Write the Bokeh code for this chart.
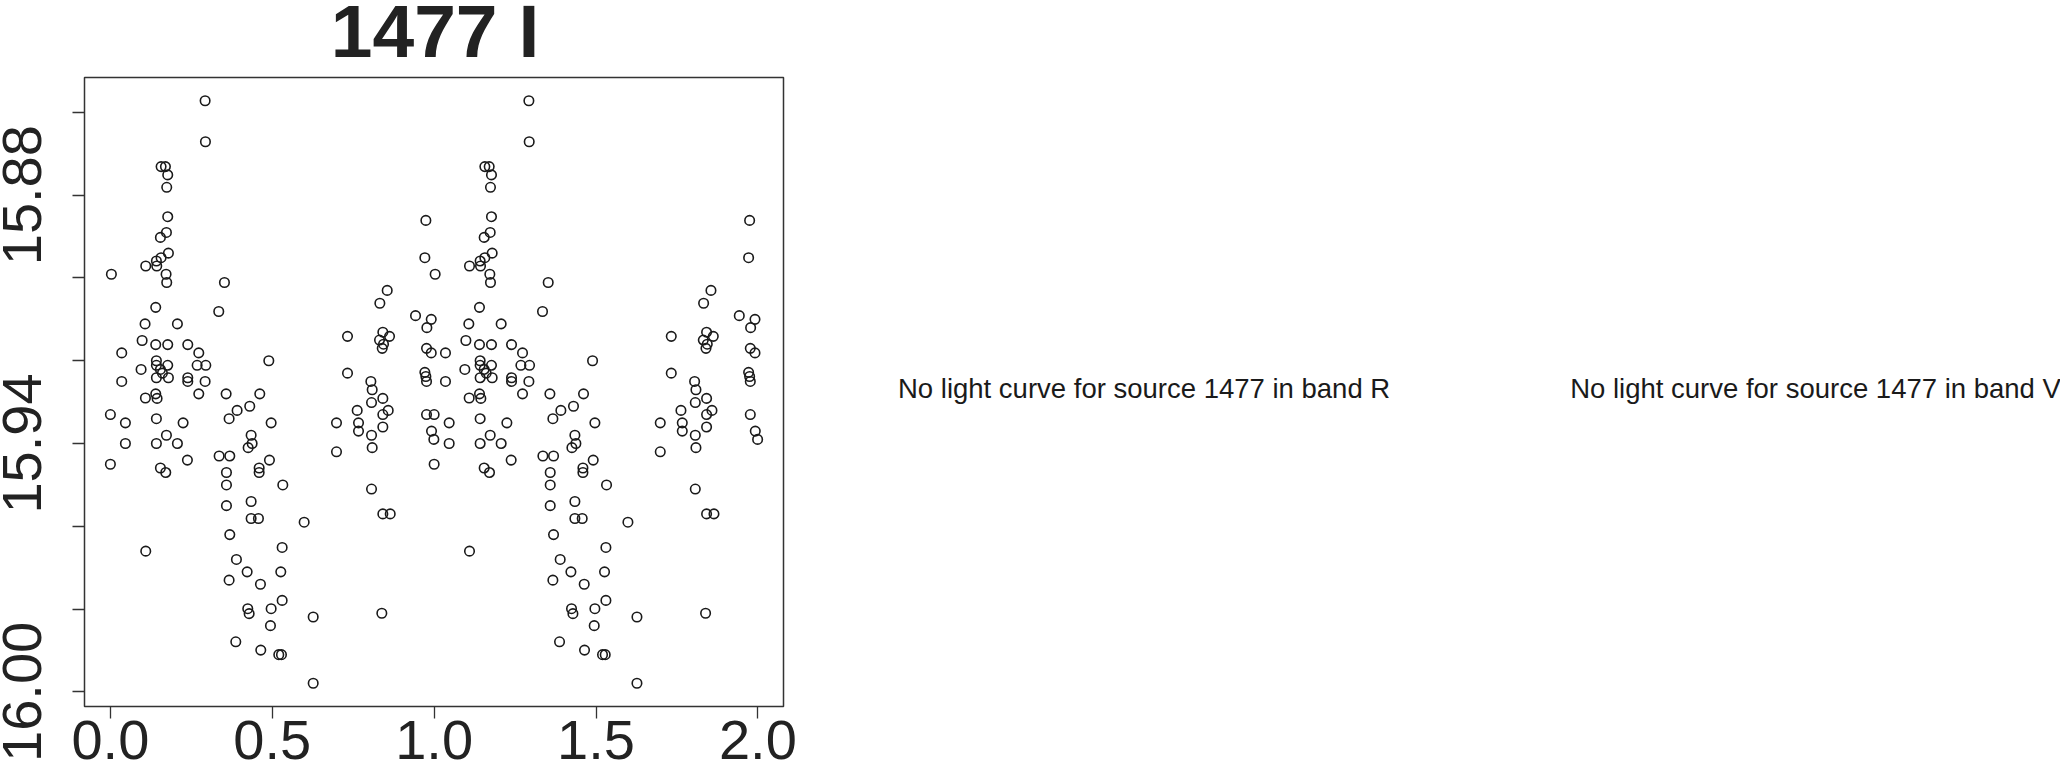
from bokeh.plotting import figure
from bokeh.models import Range1d, FixedTicker
from bokeh.layouts import row, column
from bokeh.core.properties import value
from bokeh.embed import file_html
from bokeh.resources import INLINE

# ---------------- data ----------------
SOURCE_ID = "1477"
BAND = "I"
MISSING_BANDS = ["R", "V"]

phase_a = [0.2926, 0.2936, 0.1566, 0.1700, 0.1771, 0.1740, 0.1771, 0.1731, 0.1545, 0.1792,
           0.1566, 0.1421, 0.1092, 0.1432, 0.0031, 0.1720, 0.1740, 0.3523, 0.1400, 0.3347,
           0.1071, 0.2070, 0.0980, 0.1400, 0.1771, 0.2390, 0.0350, 0.2730, 0.4893, 0.1421,
           0.1421, 0.1771, 0.2679, 0.2947, 0.0948, 0.1545, 0.1607, 0.1421, 0.1792, 0.2390,
           0.0350, 0.2390, 0.2926]
mag_a = [15.8572, 15.8671, 15.8731, 15.8731, 15.8751, 15.8781, 15.8852, 15.8890, 15.8902, 15.8940,
         15.8951, 15.8959, 15.8971, 15.8971, 15.8991, 15.8991, 15.9011, 15.9011, 15.9071, 15.9081,
         15.9111, 15.9111, 15.9151, 15.9161, 15.9161, 15.9161, 15.9181, 15.9181, 15.9200, 15.9200,
         15.9211, 15.9211, 15.9211, 15.9211, 15.9221, 15.9221, 15.9230, 15.9241, 15.9241, 15.9241,
         15.9250, 15.9250, 15.9250]

phase_b = [0.9744, 0.9713, 0.8550, 0.8323, 0.9425, 0.9910, 0.9775, 0.7324, 0.8415, 0.8622,
           0.8313, 0.8436, 0.8396, 0.9765, 0.9910, 0.7324, 0.9713, 0.9744, 0.9765, 0.8045,
           0.8086]
mag_b = [15.8861, 15.8951, 15.9030, 15.9061, 15.9091, 15.9100, 15.9120, 15.9141, 15.9131, 15.9141,
         15.9150, 15.9160, 15.9170, 15.9170, 15.9181, 15.9230, 15.9228, 15.9238, 15.9250, 15.9250,
         15.9270]

phase_c = [0.1082, 0.1401, 0.1442, 0.2730, 0.3575, 0.4614, 0.0000, 0.0464, 0.1421, 0.2246,
           0.3914, 0.4304, 0.3667, 0.4965, 0.1731, 0.0464, 0.1421, 0.2070, 0.4347, 0.4378,
           0.4255, 0.0000, 0.1545, 0.1710, 0.2379, 0.3359, 0.3688, 0.3585, 0.4595, 0.4595,
           0.4913, 0.3585, 0.3585, 0.4347, 0.4347, 0.4573, 0.3688, 0.1092, 0.3893, 0.4224,
           0.3667, 0.4635, 0.4243, 0.4286, 0.4965, 0.4944, 0.3873, 0.4645]
mag_c = [15.9290, 15.9280, 15.9291, 15.9280, 15.9280, 15.9280, 15.9330, 15.9350, 15.9340, 15.9350,
         15.9320, 15.9310, 15.9340, 15.9350, 15.9380, 15.9400, 15.9400, 15.9400, 15.9380, 15.9400,
         15.9410, 15.9450, 15.9459, 15.9470, 15.9440, 15.9430, 15.9430, 15.9470, 15.9459, 15.9470,
         15.9440, 15.9500, 15.9550, 15.9540, 15.9581, 15.9581, 15.9620, 15.9660, 15.9680, 15.9710,
         15.9730, 15.9740, 15.9799, 15.9811, 15.9799, 15.9840, 15.9879, 15.9899]

phase_d = [0.8415, 0.8066, 0.7623, 0.8581, 0.8415, 0.9765, 0.6984, 0.7664, 0.7664, 0.8415,
           0.8066, 0.8086, 0.6984, 0.9919, 0.9991, 0.5325, 0.8066, 0.8415, 0.8643, 0.5985,
           0.5305, 0.5263, 0.5305, 0.6264, 0.8384, 0.5201, 0.5284, 0.6264]
mag_d = [15.9291, 15.9301, 15.9320, 15.9320, 15.9330, 15.9330, 15.9350, 15.9350, 15.9370, 15.9360,
         15.9380, 15.9410, 15.9420, 15.9370, 15.9390, 15.9500, 15.9510, 15.9570, 15.9570, 15.9590,
         15.9651, 15.9710, 15.9779, 15.9819, 15.9810, 15.9910, 15.9910, 15.9979]

x_tick_values = [0.0, 0.5, 1.0, 1.5, 2.0]
x_tick_labels = ["0.0", "0.5", "1.0", "1.5", "2.0"]
y_tick_values = [15.86, 15.88, 15.90, 15.92, 15.94, 15.96, 15.98, 16.00]
y_tick_labels = ["", "15.88", "", "", "15.94", "", "", "16.00"]

phase = phase_a + phase_b + phase_c + phase_d
mag = mag_a + mag_b + mag_c + mag_d

# light curve folded over two cycles
xs = phase + [ph + 1.0 for ph in phase]
ys = mag + mag


def padded(lo, hi, frac=0.04):
    span = hi - lo
    return lo - frac * span, hi + frac * span


x_lo, x_hi = padded(min(xs), max(xs))
y_lo, y_hi = padded(min(ys), max(ys))

# ---------------- layout ----------------
FONT = "Liberation Sans"
INK = "#222222"
TOTAL_W, TOTAL_H = 2060, 762
LEFT_W = 800
TITLE_H = 62
MAIN_H = TOTAL_H - TITLE_H
FRAME_L, FRAME_T, FRAME_W, FRAME_B = 83, 77, 700, 706
FRAME_R_BORDER = LEFT_W - FRAME_L - FRAME_W
MID = 0.3465  # baseline offset below the vertical middle of a line, in em


def blank(width, height, left=0, right=0):
    f = figure(width=width, height=height, output_backend="svg", toolbar_location=None,
               title=None,
               x_range=Range1d(left, width - right), y_range=Range1d(height, 0),
               x_axis_type=None, y_axis_type=None,
               min_border=0, min_border_left=left, min_border_right=right,
               min_border_top=0, min_border_bottom=0)
    f.outline_line_color = None
    f.background_fill_color = "white"
    f.border_fill_color = "white"
    return f


# title panel (its frame lines up with the light-curve frame below it)
TITLE_SIZE = 75
t = blank(LEFT_W, TITLE_H, left=FRAME_L, right=FRAME_R_BORDER)
t.text(x=[434], y=[56.5 - MID * TITLE_SIZE], text=[f"{SOURCE_ID} {BAND}"],
       text_font=value(FONT), text_font_size=value(f"{TITLE_SIZE}px"),
       text_font_style="bold", text_align="center", text_baseline="middle",
       text_color=INK)

# light curve panel
p = figure(width=LEFT_W, height=MAIN_H, output_backend="svg", toolbar_location=None,
           title=None,
           x_range=Range1d(x_lo, x_hi), y_range=Range1d(y_hi, y_lo),
           min_border_left=FRAME_L, min_border_top=FRAME_T - TITLE_H,
           min_border_right=FRAME_R_BORDER,
           min_border_bottom=TOTAL_H - FRAME_B)
p.background_fill_color = "white"
p.border_fill_color = "white"
p.outline_line_color = "#333333"
p.outline_line_width = 1.5
p.xgrid.visible = False
p.ygrid.visible = False

p.scatter(xs, ys, marker="circle", size=9.5, fill_color=None,
          line_color="#1a1a1a", line_width=1.6)

for ax in (p.xaxis[0], p.yaxis[0]):
    ax.axis_line_color = None
    ax.major_tick_out = 12
    ax.major_tick_in = 0
    ax.minor_tick_line_color = None
    ax.major_tick_line_color = "#333333"
    ax.major_tick_line_width = 1.3
    ax.major_label_text_font = FONT
    ax.major_label_text_font_size = "56px"
    ax.major_label_text_color = INK

p.xaxis.ticker = FixedTicker(ticks=x_tick_values)
p.xaxis.major_label_overrides = dict(zip(x_tick_values, x_tick_labels))
p.xaxis.major_label_standoff = 2

p.yaxis.ticker = FixedTicker(ticks=y_tick_values)
p.yaxis.major_label_overrides = dict(zip(y_tick_values, y_tick_labels))
p.yaxis.major_label_orientation = "vertical"
p.yaxis.major_label_standoff = 31

# panels for the bands without data
MSG_SIZE = 27.5
m = blank(TOTAL_W - LEFT_W, TOTAL_H)
msg_cx = [1143.6 - LEFT_W, 1815.0 - LEFT_W]
m.text(x=msg_cx, y=[397.3 - MID * MSG_SIZE] * len(MISSING_BANDS),
       text=[f"No light curve for source {SOURCE_ID} in band {b}" for b in MISSING_BANDS],
       text_font=value(FONT), text_font_size=value(f"{MSG_SIZE}px"), text_align="center",
       text_baseline="middle", text_color="#1a1a1a")

layout = row(column(t, p), m)
open("out.html", "w").write(file_html(layout, INLINE))
